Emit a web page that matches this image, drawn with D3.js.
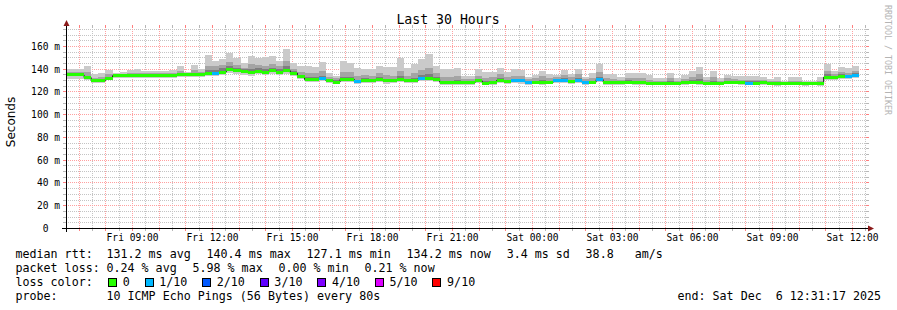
<!DOCTYPE html>
<html>
<head>
<meta charset="utf-8">
<style>
body { margin: 0; background: #fff; }
svg { display: block; }
text { font-family: "DejaVu Sans Mono", monospace; fill: #000; white-space: pre; }
.minor { stroke: #c4c4c4; stroke-dasharray: 1,1; shape-rendering: crispEdges; }
.major { stroke: #ffa0a0; stroke-dasharray: 1,1; shape-rendering: crispEdges; }
.tick-minor { stroke: #b8b8b8; shape-rendering: crispEdges; }
.tick-major { stroke: #ff8080; shape-rendering: crispEdges; }
.bins rect { shape-rendering: crispEdges; }
</style>
</head>
<body>
<svg width="897" height="310"></svg>
<script src="https://cdn.jsdelivr.net/npm/d3@7/dist/d3.min.js"></script>
<script>
// graph window and 16 minute consolidation bins (12 x 80s)
var startTime = new Date(2025, 11, 5, 6, 31, 17),
    endTime = new Date(2025, 11, 6, 12, 31, 17),
    firstBin = new Date(2025, 11, 5, 6, 24, 0),
    binMinutes = 16;

// median rtt per bin (ms)
var median = [
  134.5,134.5,134.5,132.2,129.5,129.5,131.6,133.9,134.0,134.0,
  134.1,134.0,133.9,134.0,134.0,134.2,134.8,134.9,134.9,135.1,
  135.4,135.8,137.1,139.5,138.3,137.7,136.5,137.8,136.8,138.3,
  137.1,138.3,136.2,133.0,130.4,130.7,131.1,129.5,128.3,130.8,
  130.7,128.6,129.8,129.5,130.7,129.4,129.4,130.7,129.5,129.8,
  131.6,131.1,130.6,128.1,128.2,127.9,127.9,127.9,129.3,127.3,
  128.2,129.8,129.0,129.3,129.3,128.2,128.2,128.2,128.2,129.8,
  129.8,129.0,129.3,128.2,128.2,130.4,128.2,127.9,127.9,128.2,
  128.2,127.9,127.3,127.3,127.3,127.3,127.3,128.0,128.3,128.0,
  127.4,127.3,127.3,128.2,128.2,127.9,127.3,127.3,127.9,127.3,
  127.0,127.0,127.3,127.3,127.0,127.0,127.0,132.6,131.9,133.2,
  133.0,134.2
];

// lost pings per bin (0..10 scale, used for the colour class)
var loss = [
  0,0,0,0,0,0,0,0,0,0,
  0,0,0,0,0,0,0,0,0,0,
  0,1,0,0,0,0,0,0,0,0,
  0,0,0,0,0,0,1,0,0,0,
  0,1,0,0,0,0,0,0,0,0,
  1,0,0,0,0,0,0,0,0,0,
  0,0,0,1,1,1,0,0,0,1,
  1,0,1,1,0,1,0,0,0,0,
  0,0,0,0,0,0,0,0,0,0,
  0,0,0,0,0,0,1,0,0,0,
  0,0,0,0,0,0,0,0,0,0,
  1,1
];

// smoke: fastest ping, 8th, 9th and slowest ping per bin (ms)
var pingMin = [
  131.3,131.3,131.3,130.0,127.8,127.5,129.8,131.8,132.0,132.0,
  132.0,132.2,131.8,132.0,132.0,132.2,132.5,133.0,132.8,133.0,
  133.2,133.5,134.5,136.5,135.5,134.8,134.0,135.0,134.5,135.5,
  134.5,135.8,133.8,131.0,128.5,128.2,128.8,127.5,126.3,128.5,
  128.6,126.5,127.5,127.4,128.5,127.0,127.2,128.5,127.4,127.5,
  129.0,129.0,128.3,125.8,126.0,125.5,125.5,125.3,127.2,125.5,
  126.0,127.7,126.8,127.2,127.0,126.0,126.2,126.0,126.2,127.7,
  127.5,127.0,127.2,126.0,126.3,128.2,126.0,125.8,125.9,126.2,
  126.0,125.9,125.5,125.5,125.3,125.4,125.5,126.0,126.3,126.0,
  125.5,125.4,125.5,126.3,126.2,126.0,125.4,125.5,126.0,125.5,
  125.2,125.3,125.5,125.4,125.2,125.3,125.2,130.5,129.8,131.0,
  131.0,132.0
];
var ping8 = [
  135.8,135.8,135.8,133.8,130.8,131.0,133.0,135.0,135.0,135.2,
  135.5,135.2,135.0,135.2,135.2,135.5,136.3,136.0,136.5,136.3,
  139.0,138.5,140.5,142.5,140.5,139.5,140.0,140.5,139.5,141.0,
  139.5,142.0,138.0,134.5,132.5,132.5,134.0,130.8,129.8,133.0,
  132.5,130.5,131.5,131.0,132.5,131.0,131.0,133.5,131.0,132.0,
  134.5,135.0,132.5,129.5,129.5,130.0,129.0,129.0,131.0,129.0,
  129.5,131.5,130.5,131.0,131.0,129.5,129.5,130.5,129.5,131.0,
  131.5,130.5,131.5,129.5,129.5,133.0,129.5,129.2,129.0,129.8,
  129.5,129.5,128.7,128.5,128.5,129.2,128.5,129.5,130.3,131.0,
  128.7,129.5,128.5,129.5,129.5,129.2,128.8,128.8,129.3,128.4,
  128.4,128.2,128.6,128.6,128.2,128.2,128.4,135.0,133.5,135.0,
  134.8,136.0
];
var ping9 = [
  137.5,137.5,137.5,137.0,132.0,133.0,135.0,135.0,135.5,136.0,
  136.5,136.0,136.0,136.0,136.5,136.5,138.0,136.5,138.5,137.5,
  142.5,142.0,143.5,146.0,143.5,141.0,144.0,143.0,142.5,144.5,
  142.0,146.5,140.0,137.0,136.0,136.0,138.0,132.5,131.5,137.5,
  137.0,134.0,134.5,134.0,136.0,134.5,134.0,138.0,134.0,136.0,
  139.0,141.0,136.0,133.0,133.0,134.0,131.0,131.0,134.0,132.0,
  132.5,135.0,132.5,134.0,134.0,131.0,131.5,133.5,132.0,132.5,
  134.5,132.5,135.0,131.0,132.0,137.5,131.5,131.0,130.0,132.0,
  131.5,132.0,130.5,129.5,129.5,131.5,129.5,131.0,133.0,135.0,
  130.0,132.5,129.5,131.5,131.0,130.5,130.5,130.5,130.5,129.0,
  129.5,128.5,129.5,129.5,128.5,128.5,129.5,138.0,135.0,137.0,
  136.5,138.0
];
var pingMax = [
  139.5,139.5,139.5,142.4,135.5,136.0,138.9,136.0,137.0,138.9,
  139.8,138.4,138.4,137.8,138.4,138.9,142.4,137.5,143.3,139.5,
  152.1,146.8,148.3,153.6,149.2,144.8,151.2,149.7,150.6,151.2,
  146.8,157.4,144.8,142.4,142.4,141.8,145.6,136.0,134.0,146.8,
  144.8,140.4,139.5,139.8,142.7,141.8,141.2,149.4,140.4,144.2,
  148.6,153.0,142.7,139.5,139.5,141.0,133.6,133.6,139.5,136.8,
  136.8,140.4,136.8,139.8,138.9,133.0,134.5,138.0,135.4,134.5,
  138.9,135.4,139.8,133.0,136.5,144.2,135.4,135.4,132.5,136.0,
  136.0,136.0,134.5,131.6,131.6,136.0,131.6,134.5,138.3,141.8,
  133.0,138.0,131.6,134.5,133.9,133.6,133.6,133.6,133.0,130.7,
  132.5,129.5,132.5,132.5,129.5,129.5,132.5,144.2,138.0,141.2,
  140.4,142.4
];

var yTickValues = [0, 20, 40, 60, 80, 100, 120, 140, 160];
var yTickLabels = ["0", "20 m", "40 m", "60 m", "80 m", "100 m", "120 m", "140 m", "160 m"];
var xTickTimes = ["2025-12-05 09:00", "2025-12-05 12:00", "2025-12-05 15:00", "2025-12-05 18:00",
                  "2025-12-05 21:00", "2025-12-06 00:00", "2025-12-06 03:00", "2025-12-06 06:00",
                  "2025-12-06 09:00", "2025-12-06 12:00"];
var xTickLabels = ["Fri 09:00", "Fri 12:00", "Fri 15:00", "Fri 18:00", "Fri 21:00",
                   "Sat 00:00", "Sat 03:00", "Sat 06:00", "Sat 09:00", "Sat 12:00"];

var lossLabels = ["0", "1/10", "2/10", "3/10", "4/10", "5/10", "9/10"];
var lossLimits = [0, 1, 2, 3, 4, 5, 9];
var lossColors = ["#26ff00", "#00b8ff", "#0059ff", "#5e00ff", "#7e00ff", "#dd00ff", "#ff0000"];

var rttStats = ["131.2 ms avg", "140.4 ms max", "127.1 ms min", "134.2 ms now", "3.4 ms sd", "38.8   am/s"];
var lossStats = ["0.24 % avg", "5.98 % max", "0.00 % min", "0.21 % now"];
var probeText = "10 ICMP Echo Pings (56 Bytes) every 80s";
var endText = "end: Sat Dec  6 12:31:17 2025";

var svg = d3.select("svg");
var plotLeft = 66, plotRight = 866, plotTop = 28, plotBottom = 228;

var x = d3.scaleTime().domain([startTime, endTime]).range([plotLeft, plotRight]);
var y = d3.scaleLinear().domain([0, 175.8]).range([plotBottom, plotTop]);

function px(v) { return Math.round(v) + 0.5; }

svg.append("rect").attr("width", 897).attr("height", 310).attr("fill", "#fff");

// ---- grid
var grid = svg.append("g");
var hMinor = d3.range(5, 176, 5).filter(function(v) { return v % 20 != 0; });
var hMajor = yTickValues.filter(function(v) { return v > 0; });
var vMinor = d3.timeMinute.every(30).range(startTime, endTime).filter(function(t) { return t.getMinutes() != 0; });
var vMajor = d3.timeHour.range(startTime, endTime);

function hLines(vals, cls) {
  vals.forEach(function(v) {
    var yy = px(y(v));
    grid.append("line").attr("class", cls).attr("x1", plotLeft).attr("x2", plotRight).attr("y1", yy).attr("y2", yy);
    grid.append("line").attr("class", "tick-" + cls).attr("x1", plotLeft - 3).attr("x2", plotLeft).attr("y1", yy).attr("y2", yy);
    grid.append("line").attr("class", "tick-" + cls).attr("x1", plotRight).attr("x2", plotRight + 3).attr("y1", yy).attr("y2", yy);
  });
}
function vLines(vals, cls) {
  vals.forEach(function(t) {
    var xx = px(x(t));
    grid.append("line").attr("class", cls).attr("x1", xx).attr("x2", xx).attr("y1", plotBottom).attr("y2", plotTop);
    grid.append("line").attr("class", "tick-" + cls).attr("x1", xx).attr("x2", xx).attr("y1", plotBottom).attr("y2", plotBottom + 3);
    grid.append("line").attr("class", "tick-" + cls).attr("x1", xx).attr("x2", xx).attr("y1", plotTop - 3).attr("y2", plotTop);
  });
}
hLines(hMinor, "minor");
vLines(vMinor, "minor");
hLines(hMajor, "major");
vLines(vMajor, "major");

// ---- data
var bins = median.map(function(m, i) {
  var t0 = d3.timeMinute.offset(firstBin, i * binMinutes);
  return { t0: t0, t1: d3.timeMinute.offset(t0, binMinutes), median: m, loss: loss[i],
           min: pingMin[i], p8: ping8[i], p9: ping9[i], max: pingMax[i] };
});

svg.append("clipPath").attr("id", "plot")
  .append("rect").attr("x", plotLeft + 1).attr("y", plotTop).attr("width", plotRight - plotLeft - 1).attr("height", plotBottom - plotTop);

var plot = svg.append("g").attr("class", "bins").attr("clip-path", "url(#plot)");

function band(lo, hi, color) {
  plot.append("g").selectAll("rect")
    .data(bins)
    .enter().append("rect")
      .attr("x", function(d) { return x(d.t0); })
      .attr("width", function(d) { return x(d.t1) - x(d.t0); })
      .attr("y", function(d) { return y(hi(d)); })
      .attr("height", function(d) { return Math.max(0, y(lo(d)) - y(hi(d))); })
      .attr("fill", color);
}
band(function(d) { return d.min; }, function(d) { return d.max; }, "#cacaca");
band(function(d) { return d.median; }, function(d) { return d.p9; }, "#a4a4a4");
band(function(d) { return d.median; }, function(d) { return d.p8; }, "#7e7e7e");

var stepData = bins.map(function(d) { return [d.t0, d.median]; });
stepData.push([bins[bins.length - 1].t1, bins[bins.length - 1].median]);
plot.append("path")
  .datum(stepData)
  .attr("fill", "none")
  .attr("stroke", "#202020")
  .attr("stroke-width", 1)
  .attr("d", d3.line().curve(d3.curveStepAfter)
      .x(function(d) { return x(d[0]); })
      .y(function(d) { return y(d[1]); }));

function lossColor(l) {
  for (var i = 0; i < lossLimits.length; i++) if (l <= lossLimits[i]) return lossColors[i];
  return lossColors[lossColors.length - 1];
}
plot.append("g").selectAll("rect")
  .data(bins)
  .enter().append("rect")
    .attr("x", function(d) { return x(d.t0); })
    .attr("width", function(d) { return x(d.t1) - x(d.t0); })
    .attr("y", function(d) { return y(d.median) - 1.5; })
    .attr("height", 3)
    .attr("fill", function(d) { return lossColor(d.loss); });

// ---- axes
var arrow = "#8b1a1a";
svg.append("line").attr("x1", 62).attr("x2", 870).attr("y1", plotBottom + 0.5).attr("y2", plotBottom + 0.5)
  .attr("stroke", "#000").style("shape-rendering", "crispEdges");
svg.append("line").attr("x1", plotLeft + 0.5).attr("x2", plotLeft + 0.5).attr("y1", plotBottom + 4).attr("y2", 24)
  .attr("stroke", "#000").style("shape-rendering", "crispEdges");
svg.append("path").attr("d", "M868,225.5L874,228.5L868,231.5Z").attr("fill", arrow);
svg.append("path").attr("d", "M63.5,26L66.5,20L69.5,26Z").attr("fill", arrow);

var parseT = d3.timeParse("%Y-%m-%d %H:%M");
svg.append("g").selectAll("text")
  .data(xTickTimes)
  .enter().append("text")
    .attr("x", function(d) { return x(parseT(d)) + 0.5; })
    .attr("y", 241)
    .attr("text-anchor", "middle")
    .style("font-size", "9.6px")
    .text(function(d, i) { return xTickLabels[i]; });

var smallCw = 9.6 * 0.602;
svg.append("g").selectAll("text")
  .data(yTickValues)
  .enter().append("text")
    .attr("x", function(d) { return d == 0 ? 60 - 2 * smallCw : 60; })
    .attr("y", function(d) { return px(y(d)) + 3; })
    .attr("text-anchor", "end")
    .style("font-size", "9.6px")
    .text(function(d, i) { return yTickLabels[i]; });

// ---- titles
svg.append("text").attr("x", 448).attr("y", 24).attr("text-anchor", "middle")
  .style("font-size", "13.2px").text("Last 30 Hours");

svg.append("text").attr("transform", "translate(15,122) rotate(-90)").attr("text-anchor", "middle")
  .style("font-family", "'DejaVu Sans', sans-serif").style("font-size", "12px").text("Seconds");

svg.append("text").attr("transform", "translate(884.5,5) rotate(90)")
  .style("font-size", "8.3px").style("fill", "#b4b4b4").text("RRDTOOL / TOBI OETIKER");

// ---- legend
var fs = 11.66, cw = fs * 0.602, gap = 15.8;
var legend = svg.append("g").style("font-size", fs + "px");

function legendRow(yy, head, items) {
  legend.append("text").attr("x", 15.5).attr("y", yy).text(head);
  var xx = 106.5;
  items.forEach(function(s) {
    legend.append("text").attr("x", xx).attr("y", yy).text(s);
    xx += s.length * cw + gap;
  });
}
legendRow(258, "median rtt:", rttStats);
legendRow(272, "packet loss:", lossStats);
legendRow(300, "probe:", [probeText]);

legend.append("text").attr("x", 15.5).attr("y", 286).text("loss color:");
var sx = 108.5;
lossLabels.forEach(function(l, i) {
  legend.append("rect").attr("x", sx).attr("y", 278.5).attr("width", 8).attr("height", 8)
    .attr("fill", lossColors[i]).attr("stroke", "#000").style("shape-rendering", "crispEdges");
  legend.append("text").attr("x", sx + 14.2).attr("y", 286).text(l);
  sx += 14.2 + l.length * cw + 15.3;
});

legend.append("text").attr("x", 881).attr("y", 300).attr("text-anchor", "end").text(endText);
</script>
</body>
</html>
